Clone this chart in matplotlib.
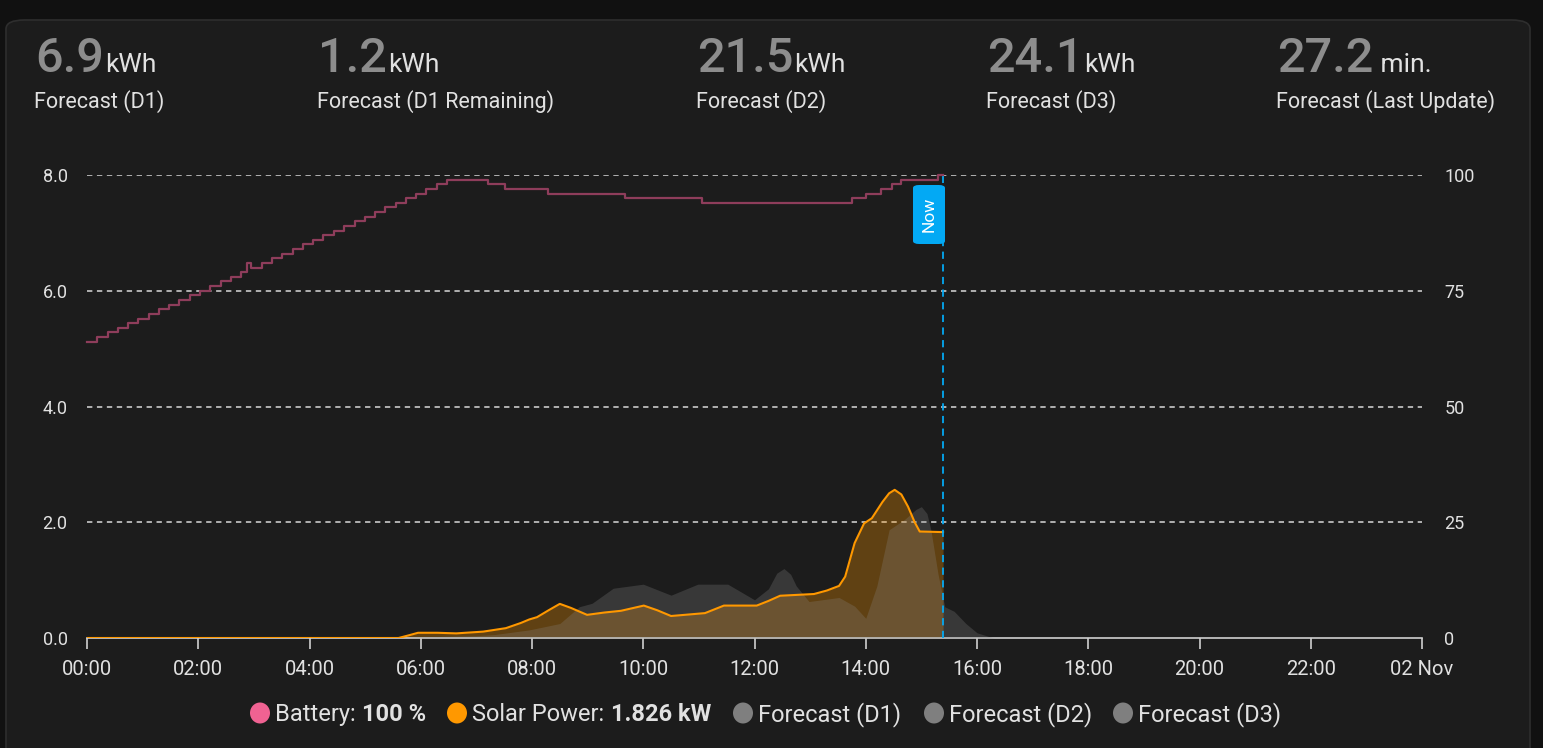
import matplotlib
matplotlib.use("Agg")
import matplotlib.pyplot as plt
from matplotlib.patches import FancyBboxPatch, Ellipse
import numpy as np

# ---------------- data ----------------
header_values = ["6.9", "1.2", "21.5", "24.1", "27.2"]
header_units = ["kWh", "kWh", "kWh", "kWh", " min."]
header_labels = ["Forecast (D1)", "Forecast (D1 Remaining)", "Forecast (D2)",
                 "Forecast (D3)", "Forecast (Last Update)"]

x_tick_hours = [0, 2, 4, 6, 8, 10, 12, 14, 16, 18, 20, 22, 24]
x_tick_labels = ["00:00", "02:00", "04:00", "06:00", "08:00", "10:00", "12:00",
                 "14:00", "16:00", "18:00", "20:00", "22:00", "02 Nov"]
left_ticks = [0, 2, 4, 6, 8]
left_tick_labels = ["0.0", "2.0", "4.0", "6.0", "8.0"]
right_ticks = [0, 25, 50, 75, 100]

now_hour = 15.39

# battery state of charge (%), hours (step changes)
battery_t = [0, 0.18, 0.37, 0.55, 0.74, 0.92, 1.11, 1.29, 1.48, 1.66, 1.85, 2.03,
             2.22, 2.40, 2.59, 2.77, 2.88, 2.95, 3.14, 3.33, 3.51, 3.70, 3.88, 4.07,
             4.25, 4.44, 4.62, 4.81, 4.99, 5.18, 5.36, 5.55, 5.73, 5.92, 6.10, 6.29,
             6.47, 7.2, 7.52, 8.29, 9.67, 11.06, 13.75, 14.0, 14.28, 14.48, 14.63,
             15.3, 15.39]
battery_pct = [64, 65, 66, 67, 68, 69, 70, 71, 72, 73, 74, 75,
               76, 77, 78, 79, 81, 80, 81, 82, 83, 84, 85, 86,
               87, 88, 89, 90, 91, 92, 93, 94, 95, 96, 97, 98,
               99, 98, 97, 96, 95, 94, 95, 96, 97, 98, 99,
               100, 100]

# solar power (kW)
solar_t = [0, 5.27, 5.6, 5.8, 5.95, 6.3, 6.64, 7.12, 7.53, 7.8, 7.95, 8.09, 8.3, 8.5,
           8.7, 8.99, 9.3, 9.6, 10.01, 10.25, 10.5, 11.11, 11.45, 12.04, 12.25, 12.46,
           13.07, 13.3, 13.52, 13.63, 13.8, 13.97, 14.11, 14.3, 14.42, 14.52, 14.64,
           14.76, 14.88, 14.97, 15.39]
solar_kw = [0, 0, 0, 0.05, 0.09, 0.09, 0.08, 0.11, 0.17, 0.26, 0.32, 0.36, 0.48, 0.59,
            0.52, 0.40, 0.44, 0.47, 0.56, 0.48, 0.38, 0.43, 0.56, 0.56, 0.64, 0.73,
            0.76, 0.82, 0.90, 1.06, 1.64, 1.98, 2.07, 2.35, 2.50, 2.56, 2.48,
            2.27, 2.00, 1.84, 1.83]

# forecast D1 (kW)
fc_t = [0, 5.5, 6.0, 6.5, 7.0, 7.33, 7.95, 8.5, 8.85, 9.08, 9.46, 10.0, 10.5, 10.98,
        11.52, 12.0, 12.25, 12.4, 12.53, 12.65, 12.75, 12.98, 13.52, 13.8, 14.0, 14.2,
        14.42, 14.7, 14.9, 15.0, 15.1, 15.17, 15.3, 15.42, 15.59, 15.8, 16.0, 16.3, 24]
fc_kw = [0, 0, 0.02, 0.03, 0.04, 0.06, 0.14, 0.25, 0.54, 0.60, 0.86, 0.93, 0.74, 0.93,
         0.93, 0.66, 0.85, 1.12, 1.20, 1.10, 0.90, 0.63, 0.70, 0.55, 0.34, 0.90,
         1.87, 2.05, 2.22, 2.27, 2.15, 1.87, 1.10, 0.54, 0.46, 0.25, 0.09, 0, 0]

legend_items = [("Battery: ", "100 %", "#f06292"),
                ("Solar Power: ", "1.826 kW", "#ff9800"),
                ("Forecast (D1)", "", "#7f7f7f"),
                ("Forecast (D2)", "", "#7f7f7f"),
                ("Forecast (D3)", "", "#7f7f7f")]

# ---------------- figure ----------------
W, H = 1543, 748
DPI = 100
plt.rcParams['font.family'] = ['Roboto', 'DejaVu Sans']
fig = plt.figure(figsize=(W / DPI, H / DPI), dpi=DPI, facecolor="#111111")

def fx(x):
    return x / W

def fy(y):
    return 1 - y / H

# card
card = FancyBboxPatch((fx(6), fy(770)), fx(1530) - fx(6), fy(20) - fy(770),
                      boxstyle="round,pad=0,rounding_size=0.012",
                      transform=fig.transFigure, facecolor="#1c1c1c",
                      edgecolor="#2e2e2e", linewidth=1.2, zorder=-10)
fig.patches.append(card)

# header
col_x = [35, 318, 697, 987, 1277]
hdr = []
for x0, v, u, lab in zip(col_x, header_values, header_units, header_labels):
    t = fig.text(fx(x0), fy(72), v, fontsize=35, color="#8d8d8d",
                 fontweight="medium", va="baseline", ha="left")
    fig.text(fx(x0 - 1), fy(108), lab, fontsize=15.5, color="#e1e1e1",
             va="baseline", ha="left")
    hdr.append((t, u))

renderer = fig.canvas.get_renderer()
for t, u in hdr:
    bb = t.get_window_extent(renderer=renderer)
    fig.text(fx(bb.x1 + 1), fy(72), u, fontsize=19, color="#e1e1e1",
             va="baseline", ha="left")

# axes
ax = fig.add_axes([fx(87), fy(638), fx(1422) - fx(87), fy(175) - fy(638)])
ax.set_facecolor("none")
ax.set_xlim(0, 24)
ax.set_ylim(0, 8)
for s in ["top", "right", "left"]:
    ax.spines[s].set_visible(False)
ax.spines["bottom"].set_color("#cfcfcf")
ax.spines["bottom"].set_linewidth(1.2)

ax.set_xticks(x_tick_hours)
ax.set_xticklabels(x_tick_labels)
ax.tick_params(axis="x", colors="#cfcfcf", length=8, width=1.2, labelsize=14.5,
               labelcolor="#e1e1e1", pad=8)
ax.set_yticks(left_ticks)
ax.set_yticklabels(left_tick_labels)
ax.tick_params(axis="y", length=0, labelsize=13, labelcolor="#e1e1e1", pad=14)
ax.grid(False)
for v in left_ticks[1:]:
    ax.axhline(v, color="#d8d8d8", lw=1.1, ls=(0, (3.5, 3)), zorder=1)

ax2 = ax.twinx()
ax2.set_ylim(0, 100)
ax2.set_yticks(right_ticks)
ax2.set_yticklabels([str(v) for v in right_ticks])
ax2.tick_params(axis="y", length=0, labelsize=13, labelcolor="#e1e1e1", pad=16)
for s in ["top", "right", "left", "bottom"]:
    ax2.spines[s].set_visible(False)

# solar fill + forecast fill + solar line
ax.fill_between(solar_t, solar_kw, 0, color="#ff9800", alpha=0.3, lw=0, zorder=2)
ax.fill_between(fc_t, fc_kw, 0, color="#8c8c8c", alpha=0.25, lw=0, zorder=3)
ax.plot(solar_t, solar_kw, color="#ff9800", lw=1.5, zorder=4, solid_joinstyle="round")

# battery
ax2.plot(battery_t, battery_pct, color="#8e3d5b", lw=1.6, drawstyle="steps-post",
         zorder=5, clip_on=False)

# now line
ax.axvline(now_hour, color="#03a9f4", lw=1.3, ls=(0, (4, 3)), zorder=6, clip_on=False)
nb = FancyBboxPatch((fx(913), fy(244)), fx(945) - fx(913), fy(185) - fy(244),
                    boxstyle="round,pad=0,rounding_size=0.004",
                    transform=fig.transFigure, facecolor="#03a9f4",
                    edgecolor="none", zorder=10)
fig.patches.append(nb)
fig.text(fx(929), fy(214.5), "Now", rotation=90, color="white", fontsize=12.5,
         ha="center", va="center", zorder=11)

# legend
leg_y = 721
leg_pos = [260, 457, 743, 934, 1123]
for (lab, bold, col), cx in zip(legend_items, leg_pos):
    e = Ellipse((fx(cx), fy(713)), fx(20), 21 / H, transform=fig.transFigure,
                facecolor=col, edgecolor="none")
    fig.patches.append(e)
    t = fig.text(fx(cx + 15), fy(leg_y), lab, fontsize=17, color="#e1e1e1",
                 va="baseline", ha="left")
    if bold:
        bb = t.get_window_extent(renderer=renderer)
        fig.text(fx(bb.x1 + 1), fy(leg_y), bold, fontsize=17, color="#e1e1e1",
                 fontweight="bold", va="baseline", ha="left")

fig.savefig("out.png", dpi=DPI, facecolor=fig.get_facecolor())
